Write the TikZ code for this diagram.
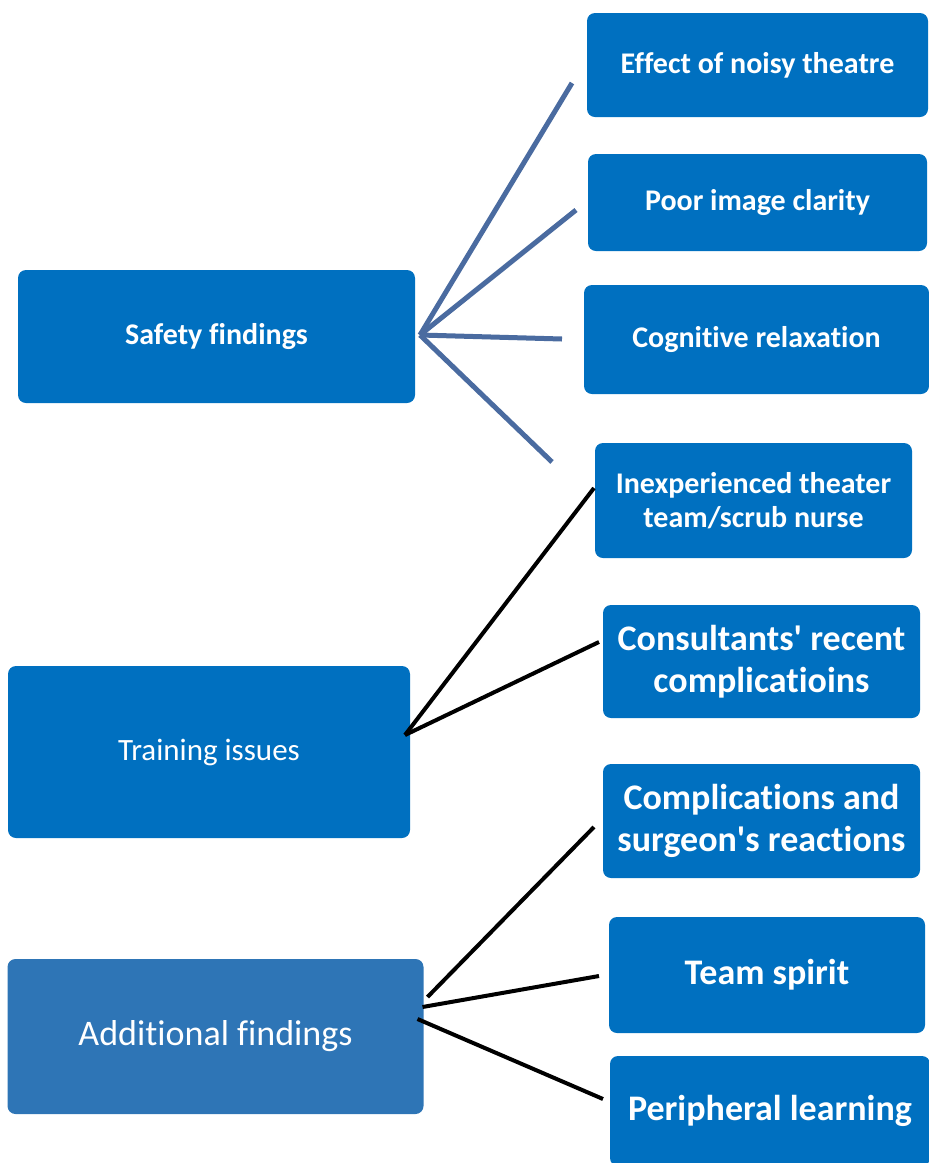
\documentclass[tikz,border=0pt]{standalone}
\usepackage{fontspec}
\setmainfont{Carlito}[Ligatures=NoCommon]
\usetikzlibrary{calc}
\definecolor{boxblue}{HTML}{0070C0}
\definecolor{addblue}{HTML}{2E75B6}
\definecolor{linkblue}{HTML}{4A6BA0}
\begin{document}
\begin{tikzpicture}[x=1pt,y=-1pt,outer sep=0pt,inner sep=0pt,
    box/.style={rectangle,rounded corners=8pt,fill=boxblue,text=white,align=center},
    smallbold/.style={font=\fontsize{30}{34}\selectfont\bfseries},
    bigbold/.style={font=\fontsize{36}{42}\selectfont\bfseries},
    safelink/.style={draw=linkblue,line width=5pt},
    blacklink/.style={draw=black,line width=4pt}]
    \useasboundingbox (0,0) rectangle (929,1163);
    \clip (0,0) rectangle (929,1163);
    % left boxes
    \node[box,smallbold,minimum width=397pt,minimum height=133pt] (sf) at (216.5,336.5) {Safety findings};
    \node[box,font=\fontsize{31}{36}\selectfont,minimum width=402pt,minimum height=172pt] (ti) at (209,752) {Training issues};
    \node[box,fill=addblue,font=\fontsize{36}{42}\selectfont,minimum width=416pt,minimum height=155pt] (af) at (215.5,1036.5) {Additional findings};
    % right boxes
    \node[box,smallbold,minimum width=341pt,minimum height=104pt] (en) at (757.5,65) {Effect of noisy theatre};
    \node[box,smallbold,minimum width=339pt,minimum height=97pt] (pic) at (757.5,202.5) {Poor image clarity};
    \node[box,smallbold,minimum width=345pt,minimum height=109pt] (cr) at (756.5,339.5) {Cognitive relaxation};
    \node[box,smallbold,minimum width=317pt,minimum height=115pt] (it) at (753.5,500.5) {Inexperienced theater\\team/scrub nurse};
    \node[box,bigbold,minimum width=317pt,minimum height=113pt] (cc) at (761.5,661.5) {Consultants\textquotesingle{} recent\\complicatioins};
    \node[box,bigbold,minimum width=317pt,minimum height=114pt] (cs) at (761.5,821) {Complications and\\surgeon\textquotesingle{}s reactions};
    \node[box,bigbold,minimum width=316pt,minimum height=116pt] (ts) at (767,975) {Team spirit};
    \node[box,bigbold,minimum width=320pt,minimum height=110pt] (pl) at (770,1111) {Peripheral learning};
    % safety links end in free space
    \coordinate (hub) at ($(sf.east)+(5,-1.5)$);
    \coordinate (s1) at (572,83);
    \coordinate (s2) at (576,210);
    \coordinate (s3) at (562,339);
    \coordinate (s4) at (552,462);
    \foreach \k in {1,...,4}
        \draw[safelink] (hub) -- (s\k);
    % training links
    \draw[blacklink] ($(ti.east)+(-5,-17)$) -- ($(it.west)+(-1,-12.5)$);
    \draw[blacklink] ($(ti.east)+(-5,-17)$) -- ($(cc.west)+(-4,-19.5)$);
    % additional links
    \draw[blacklink] ($(af.east)+(4,-39.5)$) -- ($(cs.west)+(-9,6)$);
    \draw[blacklink] ($(af.east)+(-1,-29.5)$) -- ($(ts.west)+(-10,1)$);
    \draw[blacklink] ($(af.east)+(-6,-17.5)$) -- ($(pl.west)+(-7,-12)$);
\end{tikzpicture}
\end{document}
